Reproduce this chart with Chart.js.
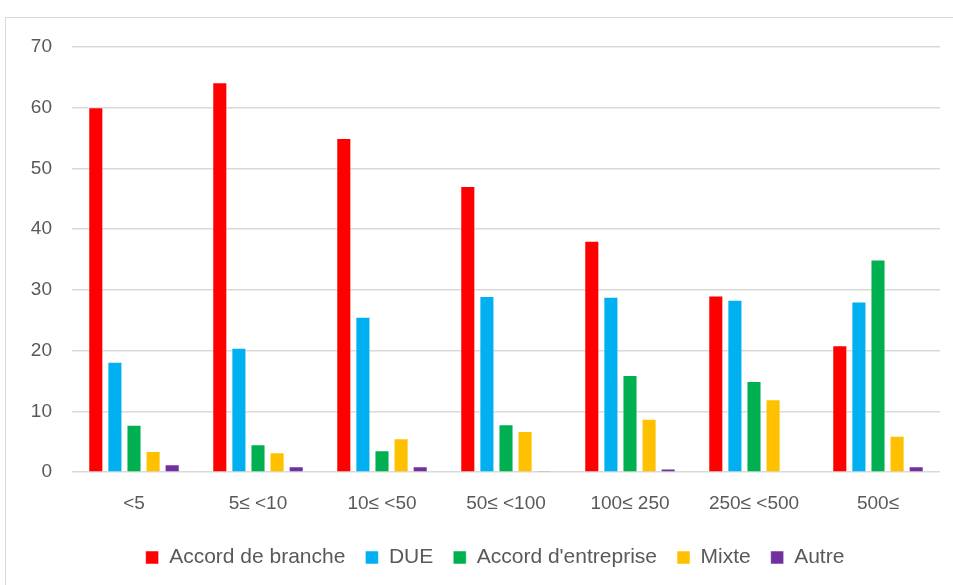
<!DOCTYPE html>
<html>
<head>
<meta charset="utf-8">
<script src="https://cdn.jsdelivr.net/npm/chart.js@4"></script>
<style>
  html, body { margin: 0; padding: 0; background: #fff; overflow: hidden; }
  #frame {
    position: absolute; left: 5px; top: 17px; width: 960px; height: 580px;
    border-left: 1px solid #d9d9d9; border-top: 1px solid #d9d9d9;
  }
  #wrap { position: absolute; left: 0; top: 0; width: 947px; height: 567px; }
</style>
</head>
<body>
<div id="frame"><div id="wrap"><canvas id="barChart"></canvas></div></div>
<script>
const categories = ['<5', '5\u2264 <10', '10\u2264 <50', '50\u2264 <100', '100\u2264 250', '250\u2264 <500', '500\u2264'];
const accordBranche = [60.1, 64.2, 55.0, 47.1, 38.1, 29.1, 20.9];
const due = [18.2, 20.5, 25.6, 29.0, 28.9, 28.4, 28.1];
const accordEntreprise = [7.8, 4.6, 3.6, 7.9, 16.0, 15.0, 35.0];
const mixte = [3.5, 3.3, 5.6, 6.8, 8.8, 12.0, 6.0];
const autre = [1.3, 1.0, 1.0, 0.2, 0.6, 0, 1.0];
const yTicks = [0, 10, 20, 30, 40, 50, 60, 70];

const FONT = "'Liberation Sans', Arial, sans-serif";

function serie(label, data, color) {
  return {
    label: label,
    data: data,
    backgroundColor: color,
    borderColor: 'rgba(255,255,255,0.5)',
    borderWidth: 1,
    borderSkipped: 'bottom'
  };
}

// nudge the legend row a bit to the right of the canvas centre
const legendShift = {
  id: 'legendShift',
  afterLayout(chart) {
    chart.legend.left += 22;
    chart.legend.right += 22;
  }
};

new Chart(document.getElementById('barChart'), {
  type: 'bar',
  data: {
    labels: categories,
    datasets: [
      serie('Accord de branche', accordBranche, '#ff0000'),
      serie('DUE', due, '#00b0f0'),
      serie("Accord d'entreprise", accordEntreprise, '#00b050'),
      serie('Mixte', mixte, '#ffc000'),
      serie('Autre', autre, '#7030a0')
    ]
  },
  plugins: [legendShift],
  options: {
    responsive: true,
    maintainAspectRatio: false,
    animation: false,
    categoryPercentage: 0.77,
    barPercentage: 0.79,
    layout: { padding: { top: 0, right: 13, bottom: 7, left: 0 } },
    plugins: {
      tooltip: { enabled: false },
      legend: {
        position: 'bottom',
        labels: {
          color: '#595959',
          font: { family: FONT, size: 21 },
          boxWidth: 13,
          boxHeight: 13,
          padding: 20
        }
      }
    },
    scales: {
      x: {
        grid: { display: false },
        border: { display: false },
        ticks: { color: '#595959', font: { family: FONT, size: 19 }, padding: 12 }
      },
      y: {
        min: 0,
        max: 70,
        afterBuildTicks: axis => { axis.ticks = yTicks.map(v => ({ value: v })); },
        afterFit: axis => {
          axis.width = 66;
          axis.paddingTop = 29;
        },
        grid: { color: '#d9d9d9', lineWidth: 1.5, drawTicks: false },
        border: { display: false },
        ticks: { color: '#595959', font: { family: FONT, size: 19 }, padding: 20 }
      }
    }
  }
});
</script>
</body>
</html>
